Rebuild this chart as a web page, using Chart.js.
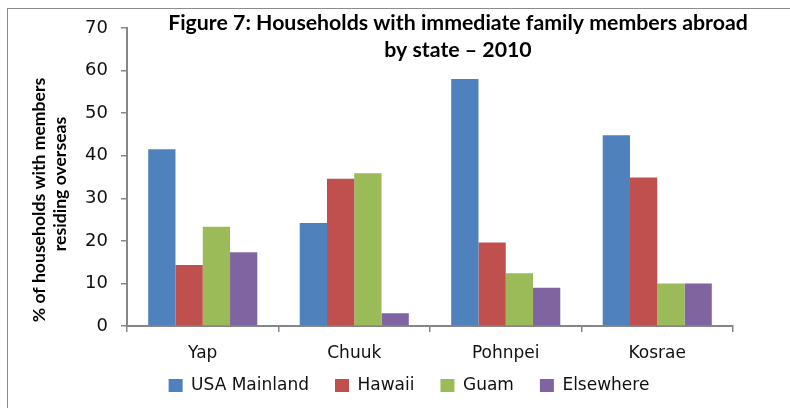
<!DOCTYPE html>
<html>
<head>
<meta charset="utf-8">
<script src="https://cdn.jsdelivr.net/npm/chart.js@4"></script>
<style>
  html, body { margin: 0; padding: 0; background: #fff; }
  #wrap { position: relative; width: 790px; height: 408px; overflow: hidden; }
  #frame { position: absolute; left: 7px; top: 8px; right: -2px; bottom: -2px;
           border-top: 1px solid #8c8c8c; border-left: 1px solid #8c8c8c; }
  #chart { position: absolute; left: 0; top: 0; }
</style>
</head>
<body>
<div id="wrap">
  <div id="frame"></div>
  <canvas id="chart" width="790" height="408"></canvas>
</div>
<script>
// dados
const states = ['Yap', 'Chuuk', 'Pohnpei', 'Kosrae'];
const usaMainland = [41.5, 24.2, 58.0, 44.8];
const hawaii = [14.3, 34.6, 19.6, 34.9];
const guam = [23.3, 35.9, 12.4, 10.0];
const elsewhere = [17.3, 3.0, 9.0, 10.0];
const seriesNames = ['USA Mainland', 'Hawaii', 'Guam', 'Elsewhere'];
const titleLines = ['Figure 7: Households with immediate family members abroad', 'by state \u2013 2010'];
const yTitleLines = ['% of households with members', 'residing overseas'];

const colors = ['#4f81bd', '#c0504d', '#9bbb59', '#8064a2'];
const axisColor = '#868686';

// ajusta o tamanho da fonte para caber na largura
function fitFont(ctx, text, width, family) {
  ctx.font = 'bold 20px ' + family;
  const w = ctx.measureText(text).width;
  return 'bold ' + (20 * width / w).toFixed(1) + 'px ' + family;
}

// título e título do eixo y desenhados por cima, como no original
const overlayText = {
  id: 'overlayText',
  afterLayout(chart) {
    // sobe a legenda para ficar logo abaixo dos rótulos do eixo x
    const lg = chart.legend;
    lg.top -= 11;
    lg.bottom -= 11;
  },
  afterDraw(chart) {
    const ctx = chart.ctx;
    ctx.save();
    ctx.fillStyle = '#000';
    ctx.textAlign = 'center';
    ctx.textBaseline = 'alphabetic';
    ctx.font = fitFont(ctx, titleLines[0], 580, 'Lato');
    ctx.fillText(titleLines[0], 458, 30);
    ctx.fillText(titleLines[1], 458, 57);

    ctx.font = fitFont(ctx, yTitleLines[0], 245, 'Lato');
    ctx.save();
    ctx.translate(45, 200);
    ctx.rotate(-Math.PI / 2);
    ctx.fillText(yTitleLines[0], 0, 0);
    ctx.restore();
    ctx.save();
    ctx.translate(66, 184);
    ctx.rotate(-Math.PI / 2);
    ctx.fillText(yTitleLines[1], 0, 0);
    ctx.restore();
    ctx.restore();
  }
};

const ctx = document.getElementById('chart').getContext('2d');
const chart = new Chart(ctx, {
  type: 'bar',
  data: {
    labels: states,
    datasets: [usaMainland, hawaii, guam, elsewhere].map((d, i) => ({
      label: seriesNames[i],
      data: d,
      backgroundColor: colors[i],
      borderWidth: 0,
      categoryPercentage: 0.72,
      barPercentage: 1
    }))
  },
  options: {
    responsive: false,
    animation: false,
    layout: { padding: { left: 85, right: 57, top: 28, bottom: -7 } },
    plugins: {
      legend: {
        position: 'bottom',
        labels: {
          boxWidth: 14,
          boxHeight: 13,
          padding: 26,
          color: '#111',
          font: { family: 'DejaVu Sans', size: 17 }
        }
      },
      tooltip: { enabled: false }
    },
    scales: {
      x: {
        afterFit(scale) { scale.height = 36; },
        grid: { display: true, drawOnChartArea: false, tickLength: 6, color: axisColor, lineWidth: 1.5 },
        border: { color: axisColor, width: 2 },
        ticks: { padding: 11, color: '#111', font: { family: 'DejaVu Sans', size: 17 } }
      },
      y: {
        min: 0,
        max: 70,
        afterFit(scale) { scale.width = 42; },
        grid: { display: true, drawOnChartArea: false, tickLength: 6, color: axisColor, lineWidth: 1.5 },
        border: { color: axisColor, width: 2 },
        ticks: { stepSize: 10, padding: 13, color: '#111', font: { family: 'DejaVu Sans', size: 18 } }
      }
    }
  },
  plugins: [overlayText]
});
</script>
</body>
</html>
